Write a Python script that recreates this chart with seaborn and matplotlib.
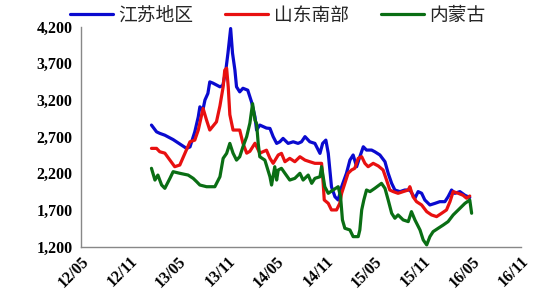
import matplotlib
matplotlib.use("Agg")
import matplotlib.pyplot as plt
import seaborn as sns
import pandas as pd

series_names = ["江苏地区", "山东南部", "内蒙古"]
series_colors = ["#0A0ACF", "#E81010", "#0A6E14"]
y_ticks = [1200, 1700, 2200, 2700, 3200, 3700, 4200]
x_tick_dates = ["2012-05-01", "2012-11-01", "2013-05-01", "2013-11-01", "2014-05-01",
                "2014-11-01", "2015-05-01", "2015-11-01", "2016-05-01", "2016-11-01"]

jiangsu_dates = [
    "2013-01-20", "2013-02-08", "2013-02-20", "2013-03-11", "2013-04-11", "2013-05-06",
    "2013-05-31", "2013-06-13", "2013-07-01", "2013-07-14", "2013-07-20", "2013-07-31",
    "2013-08-08", "2013-08-19", "2013-08-26", "2013-09-07", "2013-10-03", "2013-10-14",
    "2013-10-25", "2013-11-02", "2013-11-12", "2013-11-19", "2013-11-28", "2013-12-04",
    "2013-12-16", "2013-12-28", "2014-01-15", "2014-01-29", "2014-02-11", "2014-02-17",
    "2014-03-01", "2014-03-26", "2014-04-08", "2014-04-20", "2014-05-03", "2014-05-15",
    "2014-05-27", "2014-06-15", "2014-07-04", "2014-07-22", "2014-08-04", "2014-08-17",
    "2014-09-04", "2014-09-23", "2014-10-12", "2014-10-22", "2014-11-03", "2014-11-12",
    "2014-11-18", "2014-11-24", "2014-12-07", "2014-12-19", "2015-01-01", "2015-01-19",
    "2015-02-01", "2015-02-13", "2015-02-26", "2015-03-10", "2015-03-23", "2015-04-04",
    "2015-04-23", "2015-05-05", "2015-05-24", "2015-06-12", "2015-06-24", "2015-07-07",
    "2015-07-19", "2015-08-07", "2015-08-25", "2015-09-13", "2015-10-02", "2015-10-14",
    "2015-10-27", "2015-11-08", "2015-11-27", "2015-12-16", "2016-01-03", "2016-01-22",
    "2016-02-03", "2016-02-16", "2016-02-28", "2016-03-18", "2016-04-06", "2016-04-24",
]
jiangsu_values = [
    2858, 2766, 2745, 2720, 2660, 2600,
    2540, 2560, 2766, 2970, 3107, 3060,
    3200, 3290, 3447, 3430, 3380, 3400,
    3607, 3840, 4175, 3840, 3607, 3380,
    3311, 3360, 3334, 3175, 2970, 2790,
    2858, 2817, 2812, 2700, 2608, 2630,
    2676, 2608, 2630, 2608, 2630, 2700,
    2630, 2608, 2472, 2608, 2653, 2472,
    2245, 2017, 1880, 1836, 2017, 2200,
    2380, 2450, 2290, 2426, 2562, 2517,
    2517, 2494, 2450, 2358, 2200, 2063,
    1972, 1950, 1972, 1972, 1860, 1950,
    1928, 1836, 1768, 1790, 1813, 1813,
    1880, 1972, 1927, 1950, 1900, 1870,
]

shandong_dates = [
    "2013-01-20", "2013-02-08", "2013-02-20", "2013-03-11", "2013-03-30", "2013-04-17",
    "2013-05-06", "2013-05-25", "2013-06-13", "2013-07-01", "2013-07-14", "2013-08-01",
    "2013-08-14", "2013-08-26", "2013-09-20", "2013-10-03", "2013-10-15", "2013-10-21",
    "2013-10-28", "2013-11-03", "2013-11-09", "2013-11-21", "2013-12-16", "2013-12-28",
    "2014-01-11", "2014-01-23", "2014-02-11", "2014-03-01", "2014-03-26", "2014-04-08",
    "2014-04-20", "2014-05-09", "2014-05-21", "2014-06-03", "2014-06-21", "2014-07-10",
    "2014-07-29", "2014-08-17", "2014-09-04", "2014-09-23", "2014-10-18", "2014-10-24",
    "2014-10-28", "2014-11-12", "2014-11-24", "2014-12-13", "2014-12-25", "2015-01-01",
    "2015-01-13", "2015-01-25", "2015-02-07", "2015-02-19", "2015-03-04", "2015-03-17",
    "2015-03-29", "2015-04-10", "2015-04-29", "2015-05-18", "2015-06-05", "2015-06-18",
    "2015-06-30", "2015-07-13", "2015-07-31", "2015-08-19", "2015-09-07", "2015-09-13",
    "2015-09-25", "2015-10-08", "2015-10-27", "2015-11-15", "2015-12-03", "2015-12-22",
    "2016-01-10", "2016-01-28", "2016-02-10", "2016-02-22", "2016-03-12", "2016-03-30",
    "2016-04-12", "2016-04-24",
]
shandong_values = [
    2540, 2540, 2494, 2475, 2380, 2290,
    2313, 2472, 2630, 2653, 2790, 3085,
    2925, 2790, 2902, 3120, 3380, 3607,
    3634, 3380, 3000, 2790, 2790, 2610,
    2475, 2500, 2610, 2475, 2515, 2404,
    2336, 2450, 2472, 2358, 2404, 2358,
    2426, 2380, 2358, 2336, 2336, 2063,
    1836, 1790, 1700, 1700, 1790, 1927,
    2063, 2200, 2245, 2268, 2404, 2426,
    2336, 2290, 2336, 2300, 2245, 2108,
    1972, 1950, 1927, 1950, 1972, 2017,
    1880, 1813, 1768, 1677, 1632, 1609,
    1655, 1700, 1813, 1950, 1927, 1900,
    1860, 1890,
]

neimenggu_dates = [
    "2013-01-20", "2013-02-02", "2013-02-13", "2013-02-27", "2013-03-11", "2013-03-30",
    "2013-04-11", "2013-05-06", "2013-06-06", "2013-06-25", "2013-07-08", "2013-07-20",
    "2013-08-14", "2013-09-14", "2013-10-03", "2013-10-15", "2013-10-28", "2013-11-09",
    "2013-11-21", "2013-12-04", "2013-12-16", "2013-12-28", "2014-01-11", "2014-01-23",
    "2014-02-02", "2014-02-11", "2014-02-17", "2014-02-23", "2014-03-01", "2014-03-20",
    "2014-04-08", "2014-04-14", "2014-04-26", "2014-05-03", "2014-05-09", "2014-05-21",
    "2014-06-03", "2014-06-21", "2014-07-10", "2014-07-29", "2014-08-10", "2014-08-29",
    "2014-09-11", "2014-09-23", "2014-10-12", "2014-10-18", "2014-10-24", "2014-10-30",
    "2014-11-12", "2014-11-30", "2014-12-19", "2014-12-28", "2015-01-04", "2015-01-13",
    "2015-02-01", "2015-02-13", "2015-03-04", "2015-03-10", "2015-03-17", "2015-03-25",
    "2015-04-04", "2015-04-17", "2015-05-05", "2015-05-30", "2015-06-12", "2015-06-24",
    "2015-07-07", "2015-07-19", "2015-07-31", "2015-08-19", "2015-09-07", "2015-09-19",
    "2015-10-02", "2015-10-21", "2015-11-02", "2015-11-15", "2015-11-27", "2015-12-09",
    "2015-12-28", "2016-01-16", "2016-02-03", "2016-02-22", "2016-03-12", "2016-04-06",
    "2016-04-24", "2016-05-01",
]
neimenggu_values = [
    2268, 2108, 2176, 2040, 1995, 2131,
    2222, 2200, 2176, 2131, 2085, 2040,
    2017, 2017, 2153, 2404, 2472, 2608,
    2475, 2380, 2426, 2562, 2700, 2885,
    3150, 2925, 2880, 2610, 2426, 2380,
    2153, 2040, 2290, 2108, 2245, 2268,
    2200, 2108, 2131, 2200, 2108, 2176,
    2063, 2131, 2153, 2290, 2153, 2017,
    1927, 1972, 2017, 1880, 1564, 1450,
    1427, 1336, 1336, 1427, 1700, 1836,
    1972, 1950, 1995, 2063, 1995, 1836,
    1655, 1587, 1632, 1564, 1541, 1677,
    1564, 1427, 1291, 1223, 1336, 1404,
    1450, 1495, 1541, 1632, 1700, 1790,
    1836, 1655,
]

frames = []
for name, d, v in [(series_names[0], jiangsu_dates, jiangsu_values),
                   (series_names[1], shandong_dates, shandong_values),
                   (series_names[2], neimenggu_dates, neimenggu_values)]:
    frames.append(pd.DataFrame({"date": pd.to_datetime(d), "value": v, "series": name}))
df = pd.concat(frames, ignore_index=True)

sns.set_style("white")
plt.rcParams["font.family"] = ["Noto Sans CJK SC", "DejaVu Sans"]

fig = plt.figure(figsize=(5.5, 3.0), dpi=100)
ax = fig.add_axes([0.147, 0.178, 0.800, 0.733])

sns.lineplot(data=df, x="date", y="value", hue="series", hue_order=series_names,
             palette=series_colors, linewidth=2.3, estimator=None, sort=False,
             legend=False, ax=ax)

ax.set_ylim(1200, 4200)
ax.set_xlim(pd.Timestamp(x_tick_dates[0]), pd.Timestamp(x_tick_dates[-1]))
ax.set_yticks(y_ticks)
ax.set_yticklabels([f"{t:,}" for t in y_ticks], family="Liberation Serif",
                   fontweight="bold", fontsize=11.5)
xt = pd.to_datetime(x_tick_dates)
ax.set_xticks(xt)
ax.set_xticklabels([t.strftime("%y/%m") for t in xt], family="Liberation Serif",
                   fontweight="bold", fontsize=11.5, rotation=45, ha="right",
                   rotation_mode="anchor")
ax.set_xlabel("")
ax.set_ylabel("")
for s in ["top", "right"]:
    ax.spines[s].set_visible(False)
for s in ["left", "bottom"]:
    ax.spines[s].set_color("#888888")
    ax.spines[s].set_linewidth(1.0)
ax.tick_params(axis="both", direction="in", length=4, width=1, color="#888888",
               pad=6, labelcolor="black")
ax.tick_params(axis="x", pad=5)
ax.grid(False)

handles = [plt.Line2D([], [], color=c, lw=2.3) for c in series_colors]
leg = fig.legend(handles, series_names, loc="center", bbox_to_anchor=(0.505, 0.95),
                 ncol=3, frameon=False, fontsize=13.5, handlelength=2.3,
                 handletextpad=0.3, columnspacing=1.7)

fig.savefig("out.png", dpi=100, facecolor="white")
